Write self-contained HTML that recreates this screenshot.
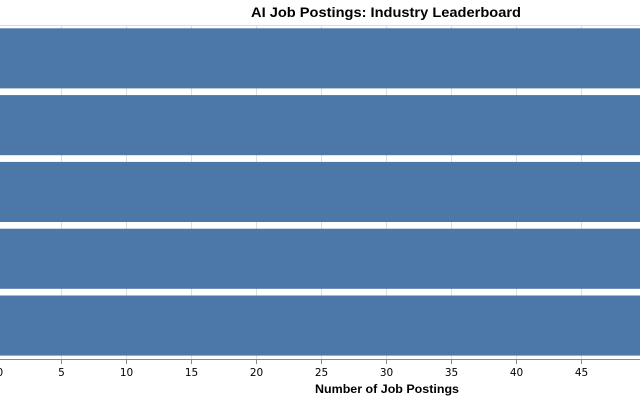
<!DOCTYPE html>
<html>
<head>
<meta charset="utf-8">
<style>
  html, body { margin: 0; padding: 0; background: #ffffff; }
  body { width: 640px; height: 400px; overflow: hidden; }
  svg { display: block; }
</style>
</head>
<body>
<svg width="640" height="400" viewBox="0 0 640 400" xmlns="http://www.w3.org/2000/svg">
  <rect x="0" y="0" width="640" height="400" fill="#ffffff"/>
  <!-- view border -->
  <rect x="-3.5" y="25.5" width="780" height="334" fill="none" stroke="#dddddd" stroke-width="1"/>
  <!-- grid lines -->
  <g stroke="#dddddd" stroke-width="1">
    <line x1="-3.5" y1="25" x2="-3.5" y2="359"/>
    <line x1="61.5" y1="25" x2="61.5" y2="359"/>
    <line x1="126.5" y1="25" x2="126.5" y2="359"/>
    <line x1="191.5" y1="25" x2="191.5" y2="359"/>
    <line x1="256.5" y1="25" x2="256.5" y2="359"/>
    <line x1="321.5" y1="25" x2="321.5" y2="359"/>
    <line x1="386.5" y1="25" x2="386.5" y2="359"/>
    <line x1="451.5" y1="25" x2="451.5" y2="359"/>
    <line x1="516.5" y1="25" x2="516.5" y2="359"/>
    <line x1="581.5" y1="25" x2="581.5" y2="359"/>
  </g>
  <!-- bars -->
  <g fill="#4c78a8">
    <rect x="-3.5" y="28.3" width="700" height="60.1"/>
    <rect x="-3.5" y="95.1" width="700" height="60.1"/>
    <rect x="-3.5" y="161.9" width="700" height="60.1"/>
    <rect x="-3.5" y="228.7" width="700" height="60.1"/>
    <rect x="-3.5" y="295.5" width="700" height="60.1"/>
  </g>
  <!-- x axis -->
  <line x1="-4" y1="359.5" x2="640" y2="359.5" stroke="#888888" stroke-width="1"/>
  <g stroke="#888888" stroke-width="1">
    <line x1="-3.5" y1="359" x2="-3.5" y2="364"/>
    <line x1="61.5" y1="359" x2="61.5" y2="364"/>
    <line x1="126.5" y1="359" x2="126.5" y2="364"/>
    <line x1="191.5" y1="359" x2="191.5" y2="364"/>
    <line x1="256.5" y1="359" x2="256.5" y2="364"/>
    <line x1="321.5" y1="359" x2="321.5" y2="364"/>
    <line x1="386.5" y1="359" x2="386.5" y2="364"/>
    <line x1="451.5" y1="359" x2="451.5" y2="364"/>
    <line x1="516.5" y1="359" x2="516.5" y2="364"/>
    <line x1="581.5" y1="359" x2="581.5" y2="364"/>
  </g>
  <g font-family="'DejaVu Sans', 'Liberation Sans', sans-serif" font-size="10.5" fill="#000000" text-anchor="middle">
    <text x="-3.5" y="376" text-anchor="start">0</text>
    <text x="61.5" y="376">5</text>
    <text x="126.5" y="376">10</text>
    <text x="191.5" y="376">15</text>
    <text x="256.5" y="376">20</text>
    <text x="321.5" y="376">25</text>
    <text x="386.5" y="376">30</text>
    <text x="451.5" y="376">35</text>
    <text x="516.5" y="376">40</text>
    <text x="581.5" y="376">45</text>
  </g>
  <text x="387" y="393" font-family="'Liberation Sans', 'DejaVu Sans', sans-serif" font-size="11.5" font-weight="bold" fill="#000000" text-anchor="middle" textLength="144" lengthAdjust="spacingAndGlyphs">Number of Job Postings</text>
  <!-- title -->
  <text x="386" y="17" font-family="'Liberation Sans', 'DejaVu Sans', sans-serif" font-size="14" font-weight="bold" fill="#000000" text-anchor="middle" textLength="270" lengthAdjust="spacingAndGlyphs">AI Job Postings: Industry Leaderboard</text>
</svg>
</body>
</html>
